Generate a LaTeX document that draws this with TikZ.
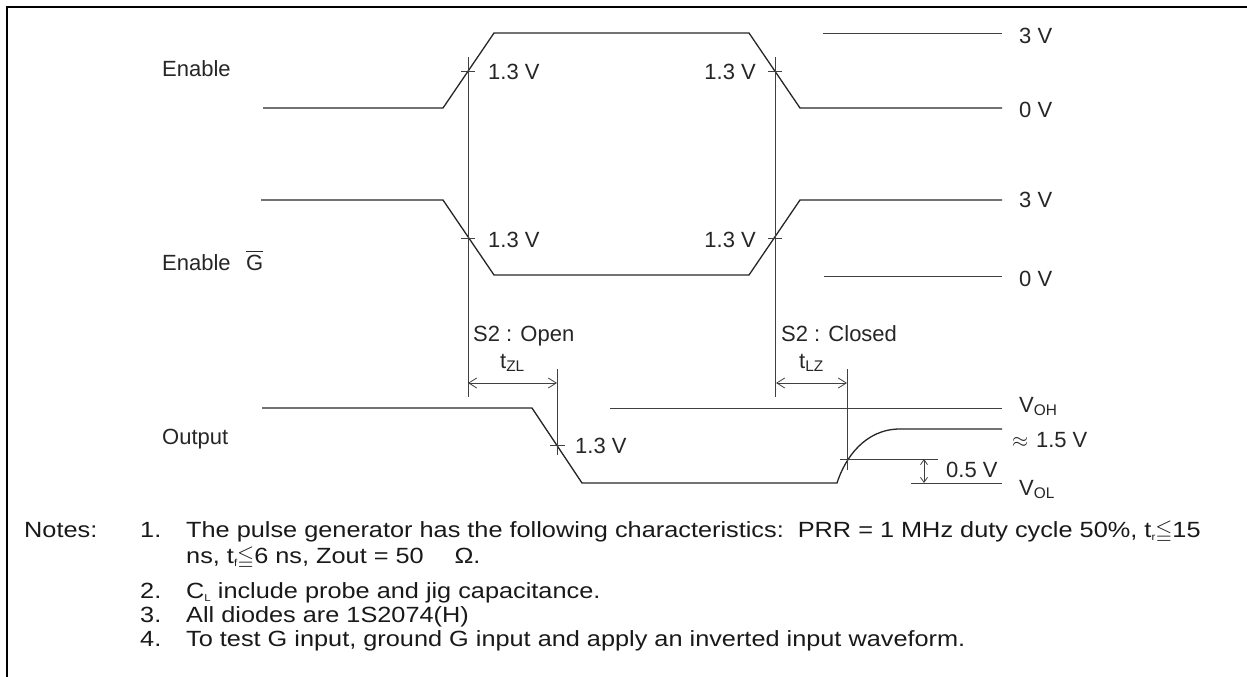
\documentclass[tikz,border=0pt]{standalone}
\usepackage{fontspec}
\setmainfont{Liberation Sans}
\newfontfamily\notefont[FakeStretch=1.15]{Liberation Sans}
\usepackage{amssymb}
\usetikzlibrary{arrows.meta, positioning}

\newcommand{\dia}{\fontsize{22}{26}\selectfont}
\newcommand{\notesize}{\fontsize{22}{26}\selectfont}
\newcommand{\tsub}[1]{\raisebox{-3pt}{\fontsize{10}{10}\selectfont #1}}

\begin{document}
\begin{tikzpicture}[
    x=1pt, y=-1pt,
    wave/.style={line width=1.3pt, black!85},
    guide/.style={line width=0.8pt, black!75},
    lbl/.style={inner sep=0pt, anchor=base west, font=\dia, text=black!85},
    nt/.style={inner sep=0pt, anchor=base west, font=\notefont\notesize, text=black!90},
    dimarrow/.style={guide, {Straight Barb[length=8pt,width=10pt]}-{Straight Barb[length=8pt,width=10pt]}},
    smallarrow/.style={guide, {Straight Barb[length=5pt,width=7pt]}-{Straight Barb[length=5pt,width=7pt]}}
]
\useasboundingbox (0,0) rectangle (1247,677);

% Frame
\draw[line width=2.5pt] (7,677) -- (7,7) -- (1247,7);

% Enable
\node[lbl] (enLbl) at (162,77) {Enable};
\draw[wave] (263,108) -- (443,108) -- (494,33) -- (749,33) -- (800,108) -- (1002,108);
\draw[guide] (823,33) -- (1002,33);
\node[lbl] (en3) at (1019,44) {3 V};
\node[lbl] (en0) at (1019,117) {0 V};

% Enable G
\node[lbl] (gLbl) at (162,270) {Enable\hspace{0.7em}$\overline{\mbox{G}}$};
\draw[wave] (261,200) -- (443,200) -- (494,275) -- (749,275) -- (800,200) -- (1002,200);
\draw[guide] (824,276) -- (1002,276);
\node[lbl] (g3) at (1019,207) {3 V};
\node[lbl] (g0) at (1019,286) {0 V};

% 1.3 V crossings
\draw[guide] (468,57) -- (468,397);
\draw[guide] (775,57) -- (775,397);
\foreach \x/\y in {468/71, 775/71, 468/238, 775/238}
  \draw[guide] (\x-7,\y) -- (\x+7,\y);
\node[lbl] (c1) at (488,80) {1.3 V};
\node[lbl, anchor=base east] (c2) at (756,80) {1.3 V};
\node[lbl] (c3) at (488,247) {1.3 V};
\node[lbl, anchor=base east] (c4) at (756,247) {1.3 V};

% Switch state
\node[lbl] (open) at (473,341) {S2 : Open};
\node[lbl] (closed) at (781,341) {S2 : Closed};

% Output
\node[lbl] (outLbl) at (162,444) {Output};
\draw[wave] (262,408) -- (532,408) -- (582,483) -- (837,483)
  .. controls (845,458) and (865,429) .. (900,429) -- (1002,429);
\draw[guide] (610,408) -- (1002,408);
\draw[guide] (840,459) -- (938,459);
\draw[guide] (911,483) -- (1002,483);
\draw[guide] (557,369) -- (557,455);
\draw[guide] (847,369) -- (847,470);
\draw[guide] (550,445) -- (565,445);
\node[lbl] (c5) at (575,453) {1.3 V};

% Timing
\coordinate (zlA) at (468,383);
\coordinate (zlB) at (557,383);
\coordinate (lzA) at (776,383);
\coordinate (lzB) at (847,383);
\draw[dimarrow] (zlA) -- node[lbl, anchor=base, yshift=15pt] (tzl) {t\textsubscript{ZL}} (zlB);
\draw[dimarrow] (lzA) -- node[lbl, anchor=base, yshift=15pt] (tlz) {t\textsubscript{LZ}} (lzB);

% Output levels
\coordinate (hA) at (924,459);
\coordinate (hB) at (924,483);
\draw[smallarrow] (hA) -- (hB);
\node[lbl] (voh) at (1019,412) {V\textsubscript{OH}};
\node[lbl] (v15) at (1012,447) {$\approx$\hspace{0.35em}1.5 V};
\node[lbl] (v05) at (946,477) {0.5 V};
\node[lbl] (vol) at (1019,495) {V\textsubscript{OL}};

% Notes
\node[nt] (notes) at (24,537) {Notes:};
\node[nt] (n1) at (140,537) {1.};
\node[nt] (n1a) at (186,537) {The pulse generator has the following characteristics:\ \ PRR = 1 MHz duty cycle 50\%, t\tsub{r}$\leqq$15};
\node[nt] (n1b) at (186,563) {ns, t\tsub{f}$\leqq$6 ns, Zout = 50\hspace{1.4em}Ω.};
\node[nt] (n2) at (140,598) {2.};
\node[nt] (n2a) at (186,598) {C\tsub{L} include probe and jig capacitance.};
\node[nt] (n3) at (140,622) {3.};
\node[nt] (n3a) at (186,622) {All diodes are 1S2074(H)};
\node[nt] (n4) at (140,646) {4.};
\node[nt] (n4a) at (186,646) {To test G input, ground G input and apply an inverted input waveform.};

\end{tikzpicture}
\end{document}
